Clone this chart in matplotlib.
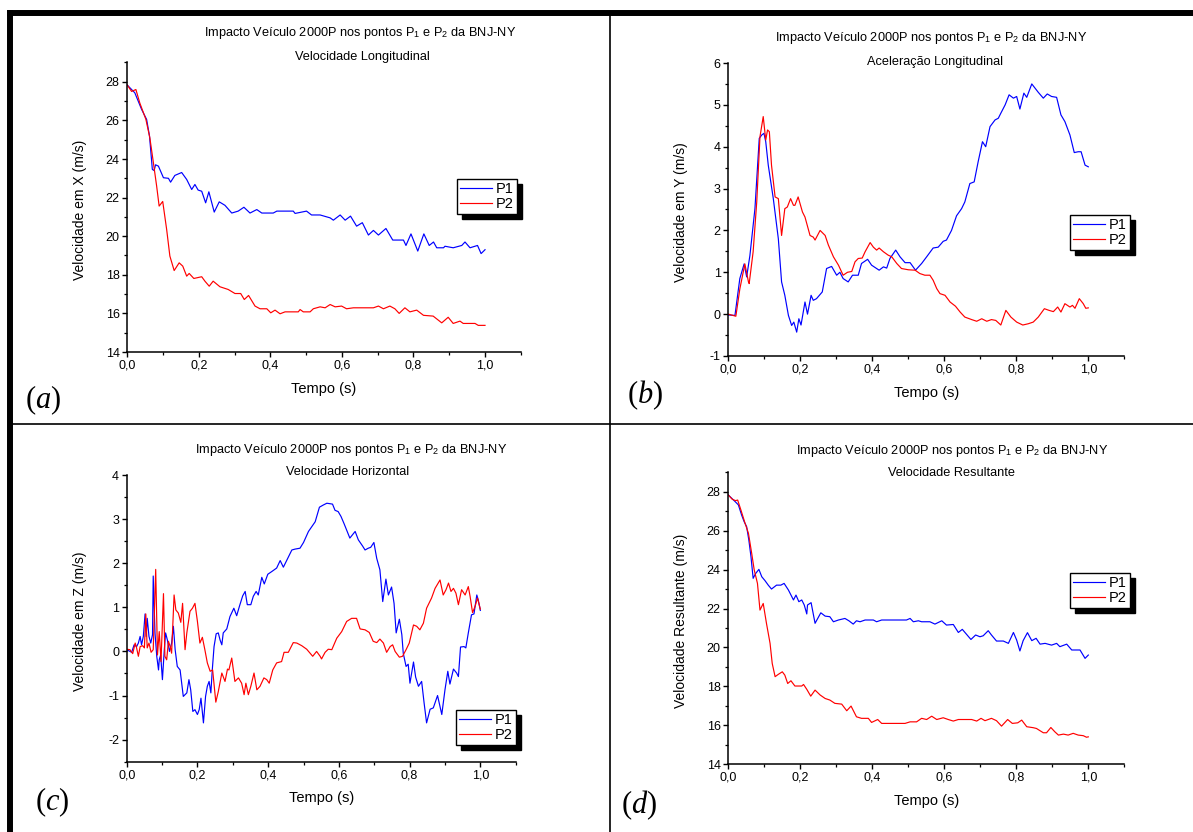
import numpy as np
import matplotlib
matplotlib.use('Agg')
import matplotlib.pyplot as plt
from matplotlib.lines import Line2D
from matplotlib.ticker import MultipleLocator, FuncFormatter

plt.rcParams['font.family'] = ['Liberation Sans', 'DejaVu Sans']
plt.rcParams['axes.unicode_minus'] = False
plt.rcParams['mathtext.fontset'] = 'custom'
plt.rcParams['mathtext.rm'] = 'Liberation Sans'
plt.rcParams['mathtext.it'] = 'Liberation Serif:italic'

# (a) velocidade longitudinal
t_a1 = [0, .021, .040, .054, .062, .070, .075, .079, .087, .101, .115, .121, .133, .152, .166, .180, .189, .198, .208, .219,
        .228, .243, .257, .273, .292, .310, .326, .343, .362, .376, .408, .418, .464, .469, .501, .515, .539, .567, .576, .595,
        .609, .624, .641, .657, .674, .688, .702, .723, .742, .772, .779, .793, .812, .829, .844, .856, .865, .884, .888, .911,
        .935, .944, .958, .979, .989, 1.0]
v_a1 = [27.83, 27.43, 26.57, 26.05, 25.2, 23.46, 23.4, 23.7, 23.63, 23.03, 23.0, 22.8, 23.15, 23.3, 22.94, 22.42, 22.68, 22.39, 22.33, 21.73,
        22.3, 21.25, 21.78, 21.6, 21.2, 21.3, 21.5, 21.2, 21.38, 21.2, 21.2, 21.3, 21.3, 21.18, 21.3, 21.1, 21.1, 20.95, 20.83, 21.1,
        20.83, 21.04, 20.52, 20.7, 20.06, 20.3, 20.06, 20.4, 19.8, 19.8, 19.52, 20.12, 19.23, 20.12, 19.52, 19.7, 19.4, 19.4, 19.48, 19.4,
        19.52, 19.7, 19.4, 19.52, 19.1, 19.3]
t_a2 = [0, .012, .024, .035, .052, .063, .073, .082, .089, .099, .110, .119, .131, .145, .155, .166, .173, .186, .208, .217,
        .229, .240, .259, .282, .301, .317, .327, .339, .357, .371, .390, .401, .413, .427, .441, .478, .483, .492, .511, .520,
        .539, .553, .567, .581, .599, .613, .632, .688, .702, .716, .734, .748, .760, .776, .790, .809, .828, .855, .879, .897,
        .911, .930, .939, .972, .981, 1.0]
v_a2 = [27.83, 27.5, 27.6, 26.9, 26.05, 25.1, 23.8, 22.6, 21.56, 21.8, 20.35, 18.97, 18.22, 18.62, 18.45, 17.93, 18.07, 17.81, 17.9, 17.67,
        17.41, 17.67, 17.38, 17.24, 17.03, 17.03, 16.72, 16.93, 16.38, 16.24, 16.24, 16.03, 16.17, 15.98, 16.08, 16.08, 16.2, 16.08, 16.08, 16.24,
        16.34, 16.29, 16.46, 16.34, 16.38, 16.24, 16.29, 16.29, 16.38, 16.24, 16.38, 16.24, 16.0, 16.29, 16.08, 16.17, 15.9, 15.86, 15.51, 15.8,
        15.48, 15.6, 15.48, 15.48, 15.38, 15.38]

# (b) velocidade em Y
t_b1 = [0, .0185, .032, .044, .051, .060, .074, .086, .093, .099, .104, .111, .125, .139, .148, .157, .167, .176, .182, .190,
        .196, .202, .213, .220, .230, .236, .245, .261, .273, .287, .301, .310, .319, .333, .345, .361, .370, .387, .398, .419,
        .431, .440, .449, .465, .477, .491, .505, .520, .537, .551, .569, .583, .597, .606, .620, .634, .648, .657, .671, .683,
        .694, .706, .715, .727, .741, .750, .757, .769, .780, .792, .801, .810, .821, .829, .843, .852, .861, .875, .886, .898,
        .912, .924, .935, .949, .961, .972, .980, .991, 1.0]
v_b1 = [-0.02, -0.03, 0.85, 1.2, 0.89, 1.4, 2.52, 4.2, 4.28, 4.32, 4.12, 3.56, 2.76, 1.8, 0.77, 0.45, -0.03, -0.27, -0.19, -0.43,
        -0.11, -0.26, 0.29, 0.0, 0.45, 0.33, 0.37, 0.53, 1.09, 1.14, 0.93, 1.0, 0.85, 0.77, 0.93, 0.93, 1.21, 1.31, 1.17, 1.05,
        1.13, 1.1, 1.33, 1.53, 1.37, 1.23, 1.23, 1.05, 1.21, 1.37, 1.58, 1.6, 1.74, 1.77, 2.0, 2.35, 2.52, 2.68, 3.12, 3.16,
        3.64, 4.12, 4.0, 4.48, 4.64, 4.68, 4.8, 5.0, 5.24, 5.16, 5.2, 4.9, 5.28, 5.18, 5.5, 5.4, 5.3, 5.16, 5.26, 5.2,
        5.18, 4.76, 4.6, 4.28, 3.86, 3.88, 3.88, 3.56, 3.52]
t_b2 = [0, .021, .032, .046, .056, .058, .069, .079, .088, .097, .104, .109, .114, .120, .130, .139, .148, .157, .164, .173,
        .181, .185, .194, .206, .213, .227, .236, .241, .255, .269, .278, .292, .306, .319, .331, .343, .352, .361, .372, .380,
        .394, .403, .412, .419, .431, .444, .454, .468, .481, .500, .519, .532, .546, .560, .569, .579, .588, .602, .616, .631,
        .644, .657, .676, .690, .704, .718, .731, .743, .757, .771, .785, .801, .818, .833, .847, .861, .878, .891, .903, .915,
        .924, .935, .949, .956, .963, .975, .986, .993, 1.0]
v_b2 = [0, -0.05, 0.6, 1.2, 0.77, 0.73, 1.49, 2.68, 4.24, 4.72, 4.16, 4.4, 4.36, 3.56, 2.8, 2.76, 1.88, 2.52, 2.56, 2.76,
        2.6, 2.6, 2.8, 2.44, 2.32, 1.88, 1.84, 1.77, 2.0, 1.88, 1.65, 1.37, 1.17, 0.93, 1.0, 1.02, 1.25, 1.33, 1.34, 1.49,
        1.71, 1.6, 1.53, 1.58, 1.49, 1.41, 1.37, 1.21, 1.09, 1.06, 1.05, 0.97, 0.93, 0.93, 0.81, 0.61, 0.49, 0.45, 0.29, 0.19,
        0.05, -0.07, -0.13, -0.17, -0.11, -0.17, -0.13, -0.15, -0.26, 0.09, -0.07, -0.19, -0.26, -0.23, -0.19, -0.07, 0.13, 0.09, 0.06, 0.17,
        0.05, 0.25, 0.17, 0.21, 0.14, 0.37, 0.25, 0.14, 0.15]

# (c) velocidade em Z
t_c1 = [0, .014, .021, .028, .033, .038, .042, .047, .052, .055, .058, .063, .068, .073, .075, .080, .085, .090, .092, .096,
        .101, .106, .110, .115, .121, .127, .132, .137, .143, .151, .160, .170, .176, .181, .187, .193, .200, .205, .210, .217,
        .223, .228, .233, .238, .242, .247, .253, .259, .264, .269, .273, .283, .292, .303, .311, .319, .328, .335, .341, .351,
        .358, .366, .372, .382, .389, .399, .410, .424, .434, .443, .457, .467, .476, .490, .500, .514, .533, .545, .556, .566,
        .582, .589, .598, .606, .615, .622, .631, .646, .655, .667, .674, .683, .690, .699, .707, .716, .724, .733, .740, .749,
        .756, .762, .771, .778, .782, .790, .796, .801, .811, .817, .825, .834, .841, .848, .858, .867, .879, .891, .900, .908,
        .914, .924, .933, .938, .944, .954, .959, .966, .975, .982, .990, .994, 1.0]
v_c1 = [0.04, -0.02, 0.15, 0.11, 0.19, 0.34, 0.15, 0.34, 0.85, 0.34, 0.75, 0.34, 0.19, 0.38, 1.71, 0.42, -0.11, -0.42, -0.19, -0.08,
        -0.64, 0.0, 0.42, 0.26, 0.0, 0.19, 0.57, 0.04, -0.34, -0.42, -1.02, -0.94, -0.64, -0.87, -1.36, -1.32, -1.43, -1.32, -1.06, -1.62,
        -1.02, -0.79, -0.68, -0.94, -0.42, 0.11, 0.4, 0.42, 0.26, 0.15, 0.42, 0.51, 0.79, 0.98, 0.81, 1.03, 1.26, 1.36, 1.06, 1.06,
        1.25, 1.36, 1.28, 1.68, 1.53, 1.75, 1.81, 1.89, 2.06, 1.91, 2.14, 2.3, 2.32, 2.34, 2.47, 2.72, 2.94, 3.27, 3.32, 3.36,
        3.34, 3.2, 3.17, 3.06, 2.89, 2.75, 2.57, 2.72, 2.53, 2.39, 2.3, 2.34, 2.36, 2.47, 2.11, 1.85, 1.13, 1.64, 1.28, 1.46,
        1.09, 0.42, 0.73, 0.38, -0.04, -0.34, -0.29, -0.72, -0.24, -0.58, -0.79, -0.68, -1.17, -1.62, -1.31, -1.28, -1.0, -1.43, -0.87, -0.45,
        -0.74, -0.4, -0.49, -0.57, 0.1, 0.11, 0.08, 0.42, 0.83, 0.85, 1.28, 1.17, 0.93]
t_c2 = [0, .009, .017, .024, .028, .033, .038, .045, .050, .054, .058, .063, .069, .075, .082, .087, .092, .097, .104, .108,
        .113, .118, .123, .127, .134, .139, .146, .153, .158, .165, .170, .179, .186, .193, .200, .207, .214, .221, .228, .236,
        .243, .252, .259, .269, .278, .285, .289, .297, .306, .316, .325, .332, .337, .344, .351, .360, .368, .377, .388, .396,
        .403, .413, .424, .438, .445, .457, .471, .481, .495, .509, .526, .537, .547, .551, .561, .570, .580, .594, .608, .622,
        .636, .650, .660, .674, .686, .697, .707, .716, .726, .735, .745, .752, .759, .771, .780, .790, .799, .811, .820, .829,
        .839, .848, .862, .872, .886, .895, .903, .910, .917, .924, .931, .938, .947, .957, .966, .971, .978, .985, .992, 1.0]
v_c2 = [0.05, 0.04, -0.05, 0.19, 0.08, -0.11, 0.11, 0.13, 0.08, 0.85, 0.08, 0.19, -0.02, 0.04, 1.86, -0.08, 0.45, -0.23, 1.31, -0.11,
        -0.19, 0.23, 0.11, -0.04, 1.28, 0.94, 0.87, 0.66, 1.09, 0.04, 0.42, 0.91, 0.98, 1.09, 0.68, 0.19, 0.32, 0.04, -0.26, -0.45,
        -0.42, -1.15, -0.91, -0.49, -0.68, -0.4, -0.42, -0.15, -0.68, -0.6, -0.72, -0.98, -0.72, -0.98, -0.79, -0.49, -0.87, -0.79, -0.6, -0.64,
        -0.72, -0.42, -0.26, -0.23, -0.02, -0.02, 0.2, 0.19, 0.13, 0.05, -0.11, 0.0, -0.11, -0.17, -0.02, 0.05, 0.04, 0.3, 0.45, 0.68,
        0.75, 0.75, 0.51, 0.49, 0.43, 0.23, 0.2, 0.28, 0.19, -0.02, 0.11, 0.15, 0.0, -0.13, -0.11, 0.04, 0.19, 0.6, 0.57, 0.49,
        0.64, 0.98, 1.21, 1.43, 1.62, 1.28, 1.4, 1.55, 1.36, 1.43, 1.32, 1.06, 1.4, 1.28, 1.47, 1.25, 0.88, 1.02, 1.21, 0.96]

# (d) velocidade resultante
t_d1 = [0, .019, .028, .037, .044, .051, .057, .063, .069, .076, .085, .093, .102, .111, .120, .134, .146, .155, .167, .181,
        .188, .196, .204, .211, .218, .220, .230, .241, .257, .269, .282, .292, .306, .324, .335, .347, .356, .366, .380, .403,
        .412, .426, .495, .505, .514, .528, .537, .560, .574, .593, .606, .625, .639, .650, .662, .674, .687, .699, .708, .722,
        .731, .745, .764, .778, .792, .801, .810, .819, .831, .843, .855, .866, .880, .898, .912, .921, .940, .954, .977, .991,
        1.0]
v_d1 = [27.83, 27.49, 27.32, 26.8, 26.46, 26.2, 25.52, 24.66, 23.55, 23.8, 24.01, 23.63, 23.43, 23.2, 23.0, 23.2, 23.2, 23.29, 22.95, 22.44,
        22.69, 22.35, 22.44, 22.18, 21.72, 22.18, 22.3, 21.24, 21.78, 21.61, 21.58, 21.32, 21.41, 21.49, 21.37, 21.2, 21.37, 21.32, 21.41, 21.41,
        21.32, 21.41, 21.41, 21.49, 21.32, 21.37, 21.32, 21.32, 21.2, 21.37, 21.15, 21.18, 20.77, 20.93, 20.67, 20.41, 20.64, 20.55, 20.6, 20.86,
        20.64, 20.33, 20.33, 20.21, 20.77, 20.38, 19.82, 20.35, 20.76, 20.35, 20.47, 20.17, 20.21, 20.12, 20.21, 20.04, 20.17, 19.87, 19.87, 19.44,
        19.61]
t_d2 = [0, .011, .020, .026, .035, .046, .056, .065, .072, .081, .088, .097, .106, .116, .122, .130, .139, .150, .157, .165,
        .174, .185, .204, .209, .218, .229, .241, .255, .269, .282, .296, .315, .329, .341, .356, .370, .389, .398, .415, .426,
        .491, .505, .523, .537, .551, .565, .579, .597, .611, .625, .639, .676, .690, .702, .713, .731, .745, .759, .776, .789,
        .804, .815, .829, .847, .856, .875, .884, .896, .907, .917, .931, .944, .958, .972, .986, .995, 1.0]
v_d2 = [27.83, 27.61, 27.54, 27.57, 27.06, 26.41, 25.86, 24.83, 23.98, 23.29, 21.92, 22.26, 21.24, 20.21, 19.18, 18.5, 18.62, 18.75, 18.58, 18.15,
        18.29, 18.02, 18.02, 18.1, 17.85, 17.5, 17.81, 17.56, 17.38, 17.3, 17.13, 17.09, 16.75, 16.99, 16.44, 16.36, 16.36, 16.15, 16.3, 16.1,
        16.1, 16.18, 16.18, 16.36, 16.3, 16.47, 16.3, 16.39, 16.3, 16.22, 16.3, 16.3, 16.22, 16.36, 16.24, 16.36, 16.24, 15.96, 16.3, 16.1,
        16.13, 16.27, 15.93, 15.88, 15.84, 15.62, 15.62, 15.89, 15.67, 15.5, 15.55, 15.5, 15.59, 15.5, 15.47, 15.39, 15.41]

title1 = 'Impacto Veículo 2000P nos pontos P$_1$ e P$_2$ da BNJ-NY'
subtitles = ['Velocidade Longitudinal', 'Aceleração Longitudinal', 'Velocidade Horizontal', 'Velocidade Resultante']
ylabels = ['Velocidade em X (m/s)', 'Velocidade em Y (m/s)', 'Velocidade em Z (m/s)', 'Velocidade Resultante (m/s)']
letters = ['a', 'b', 'c', 'd']
series = [(t_a1, v_a1, t_a2, v_a2), (t_b1, v_b1, t_b2, v_b2), (t_c1, v_c1, t_c2, v_c2), (t_d1, v_d1, t_d2, v_d2)]

W, H = 1193, 832
fig = plt.figure(figsize=(W / 100, H / 100), dpi=100)


def fx(px):
    return px / W


def fy(py):
    return 1 - py / H


# axes box in pixels: left, top, right, bottom
boxes = [(127.3, 62.5, 520.8, 352), (728.3, 63, 1124.3, 356),
         (126.7, 475, 515.7, 761.7), (728.3, 472.2, 1124.3, 764.3)]
ylims = [(14, 29), (-1, 6), (-2.5, 4), (14, 29)]
ysteps = [(2, 1), (1, 0.5), (1, 0.5), (2, 1)]
title_pos = [((360, 33), (362, 57)), ((931, 38), (935, 62)), ((351, 450), (348, 472)), ((952, 451), (951, 473))]
leg_pos = [(457, 179), (1070, 215), (456, 710), (1070, 573)]
letter_pos = [(25, 400), (627, 395), (35, 802), (621, 805)]

for i in range(4):
    l, t, r, b = boxes[i]
    ax = fig.add_axes([fx(l), fy(b), (r - l) / W, (b - t) / H])
    ta, va, tb, vb = series[i]
    ax.plot(ta, va, color='#0000ff', lw=0.85, label='P1')
    ax.plot(tb, vb, color='#ff0000', lw=0.85, label='P2')
    ax.set_xlim(0, 1.1)
    ax.set_ylim(*ylims[i])
    ax.xaxis.set_major_locator(MultipleLocator(0.2))
    ax.xaxis.set_minor_locator(MultipleLocator(0.1))
    ax.yaxis.set_major_locator(MultipleLocator(ysteps[i][0]))
    ax.yaxis.set_minor_locator(MultipleLocator(ysteps[i][1]))
    ax.xaxis.set_major_formatter(FuncFormatter(lambda v, p: f'{v:.1f}'.replace('.', ',')))
    ax.yaxis.set_major_formatter(FuncFormatter(lambda v, p: f'{v:g}'))
    for s in ['top', 'right']:
        ax.spines[s].set_visible(False)
    for s in ['left', 'bottom']:
        ax.spines[s].set_linewidth(1.1)
    ax.tick_params(which='major', direction='out', length=3.5, width=1, labelsize=9, pad=2)
    ax.tick_params(which='minor', direction='out', length=2, width=0.9)
    ax.set_xlabel('Tempo (s)', fontsize=10.5)
    ax.set_ylabel(ylabels[i], fontsize=10)
    ax.xaxis.set_label_coords(0.5, -0.127)
    ax.xaxis.label.set_va('center')
    ax.yaxis.set_label_coords(-0.12, 0.49)
    ax.yaxis.label.set_va('center')

    lx, ly = leg_pos[i]
    ax.legend(loc='upper left', bbox_to_anchor=(fx(lx), fy(ly)), bbox_transform=fig.transFigure,
              fontsize=10.5, frameon=True, fancybox=False, edgecolor='black', framealpha=1,
              borderpad=0.22, borderaxespad=0, handlelength=2.2, handletextpad=0.25, labelspacing=0.05,
              shadow={'color': 'black', 'alpha': 1, 'ox': 3.5, 'oy': -3.5})
    ax.get_legend().get_frame().set_linewidth(1.0)

    (x1, y1), (x2, y2) = title_pos[i]
    fig.text(fx(x1), fy(y1), title1, ha='center', va='center', fontsize=9.2)
    fig.text(fx(x2), fy(y2), subtitles[i], ha='center', va='center', fontsize=9.2)

    px, py = letter_pos[i]
    fig.text(fx(px), fy(py), '($\\mathit{' + letters[i] + '}$)', ha='left', va='center',
             fontsize=22, family='Liberation Serif')

# frame lines round the panels
fig.add_artist(Line2D([fx(7), 1], [fy(13), fy(13)], color='black', lw=4.3, solid_capstyle='butt'))
fig.add_artist(Line2D([fx(10), fx(10)], [fy(10), 0], color='black', lw=4.3, solid_capstyle='butt'))
fig.add_artist(Line2D([fx(610), fx(610)], [fy(16), 0], color='black', lw=1.2))
fig.add_artist(Line2D([fx(12), 1], [fy(424), fy(424)], color='black', lw=1.2))

fig.savefig('out.png', dpi=100)
